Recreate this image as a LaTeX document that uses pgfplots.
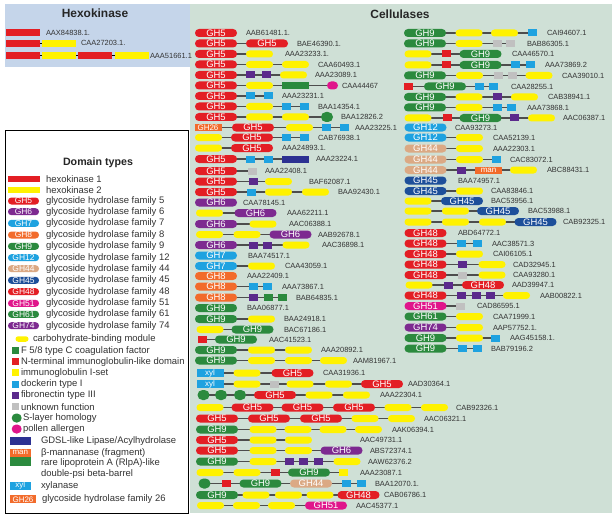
\documentclass[border=0pt]{standalone}
\usepackage{fontspec}
\setmainfont{Liberation Sans}
\setsansfont{Liberation Sans}
\usepackage{pgfplots}
\pgfplotsset{compat=1.18}
\definecolor{cRed}{HTML}{E31E24}
\definecolor{cPur}{HTML}{7D2A90}
\definecolor{cCyan}{HTML}{1EA2E0}
\definecolor{cOra}{HTML}{F26B2B}
\definecolor{cGrn}{HTML}{2B8A3E}
\definecolor{cTan}{HTML}{DBA984}
\definecolor{cNavy}{HTML}{1D4F9A}
\definecolor{cMag}{HTML}{E0158B}
\definecolor{cYel}{HTML}{FFF200}
\definecolor{cFn}{HTML}{5B2A8C}
\definecolor{cUnk}{HTML}{C0C0C0}
\definecolor{cGdsl}{HTML}{2C3192}
\definecolor{hexbg}{HTML}{C5D5EA}
\definecolor{cellbg}{HTML}{CFE0D6}
\definecolor{conn}{HTML}{4D4D4D}
\definecolor{lab}{HTML}{333333}
\tikzset{
  base/.style={rectangle, inner sep=0pt, outer sep=0pt, anchor=center},
  ghn/.style={base, rounded corners=3.9bp, minimum width=42bp, minimum height=8bp, text=white, font=\fontsize{9.5}{9.5}\selectfont},
  ghl/.style={base, rounded corners=3.4bp, minimum width=31bp, minimum height=7bp, text=white, font=\fontsize{8.5}{8.5}\selectfont},
  cbmn/.style={base, rounded corners=3.4bp, minimum width=27bp, minimum height=7bp, fill=cYel},
  sqn/.style={base, minimum width=9bp, minimum height=7bp},
  sql/.style={base, minimum width=7bp, minimum height=7bp},
  circn/.style={base, rounded corners=5bp, minimum width=12bp, minimum height=10bp},
  rectn/.style={base, minimum width=27bp, minimum height=7bp, text=white, font=\fontsize{8}{8}\selectfont},
  rectl/.style={base, minimum width=21bp, minimum height=8bp, text=white, font=\fontsize{8}{8}\selectfont},
  hexn/.style={base, minimum width=34bp, minimum height=7bp},
}
\pgfplotsset{
  dm/.style 2 args={draw=none, mark=none, forget plot, nodes near coords={#2}, nodes near coords align={center}, every node near coord/.style={#1}},
  lb/.style={draw=none, mark=none, forget plot, point meta=explicit symbolic, nodes near coords, nodes near coords align={center}, every node near coord/.style={anchor=west, inner sep=0pt, outer sep=0pt, text=lab, font=#1}},
}
\begin{document}
\begin{tikzpicture}
\begin{axis}[
  width=612bp, height=517bp, scale only axis,
  xmin=0, xmax=612, ymin=0, ymax=517, y dir=reverse,
  hide axis, clip=false,
]
% panels
\addplot[draw=none, fill=hexbg, forget plot] coordinates {(5,4)(190,4)(190,67)(5,67)} -- cycle;
\addplot[draw=none, fill=cellbg, forget plot] coordinates {(190,4)(612,4)(612,513)(190,513)} -- cycle;
\addplot[draw=black, line width=0.9bp, fill=white, forget plot] coordinates {(5,130)(188,130)(188,513)(5,513)} -- cycle;

% hexokinase connectors
\addplot[black, line width=1bp, mark=none, unbounded coords=jump, forget plot] coordinates {
(23,43.3)(59,43.3)(0,nan)(23,56)(131.5,56)};

% cellulase connectors
\addplot[conn, line width=1.2bp, mark=none, unbounded coords=jump, forget plot] coordinates {
(216,43.5)(267,43.5)(0,nan)(216,54)(259.5,54)(0,nan)(216,64.5)(295.5,64.5)(0,nan)
(216,75)(293.5,75)(0,nan)(216,85.5)(332.5,85.5)(0,nan)(216,96)(268.5,96)(0,nan)
(216,106.5)(304.5,106.5)(0,nan)(216,117)(327,117)(0,nan)(208,127.5)(344.5,127.5)(0,nan)
(208.5,137.5)(304.5,137.5)(0,nan)(208.5,148)(252,148)(0,nan)(216,159)(295.5,159)(0,nan)
(216,171)(252,171)(0,nan)(216,181.5)(278.5,181.5)(0,nan)(216,192)(315.5,192)(0,nan)
(209.5,213)(255.5,213)(0,nan)(216,224)(263,224)(0,nan)(209.5,234.5)(290.5,234.5)(0,nan)
(216,245)(296,245)(0,nan)(216,266)(261.5,266)(0,nan)(216,286.5)(267,286.5)(0,nan)
(216,297.5)(282,297.5)(0,nan)(216,319)(261.5,319)(0,nan)(210,329.5)(252.5,329.5)(0,nan)
(202,339.5)(236,339.5)(0,nan)(216,350)(298.5,350)(0,nan)(216,360.5)(333.5,360.5)(0,nan)
(210,373)(292.5,373)(0,nan)(210,384)(382,384)(0,nan)(203.5,395)(356.5,395)(0,nan)
(210,407.5)(434.5,407.5)(0,nan)(217,418.5)(401.5,418.5)(0,nan)(217,429.5)(368.5,429.5)(0,nan)
(217,440)(298.5,440)(0,nan)(217,450.5)(341.5,450.5)(0,nan)(217,461.5)(347,461.5)(0,nan)
(210,472.5)(343.5,472.5)(0,nan)(204.5,483.5)(361,483.5)(0,nan)(217,495)(358.5,495)(0,nan)
(210.5,505.5)(326,505.5)(0,nan)
(425,33)(532,33)(0,nan)(425,43.5)(510.5,43.5)(0,nan)(418,54)(480.5,54)(0,nan)
(418,65)(530,65)(0,nan)(425,75.5)(539,75.5)(0,nan)(408.5,86.5)(493.5,86.5)(0,nan)
(425,97)(524.5,97)(0,nan)(425,107.5)(511.5,107.5)(0,nan)(418,118)(541.5,118)(0,nan)
(425.5,137.5)(469.5,137.5)(0,nan)(425.5,148.5)(469.5,148.5)(0,nan)(425.5,159.5)(496.5,159.5)(0,nan)
(425.5,170)(523.5,170)(0,nan)(425.5,191)(469.5,191)(0,nan)(418,201)(462,201)(0,nan)
(418,211)(498,211)(0,nan)(418,222)(535.5,222)(0,nan)(425.5,243.5)(477,243.5)(0,nan)
(425.5,254)(469.5,254)(0,nan)(425.5,264.5)(492,264.5)(0,nan)(425.5,275)(492,275)(0,nan)
(419,285)(483,285)(0,nan)(425.5,295.5)(516.5,295.5)(0,nan)(425.5,306)(460.5,306)(0,nan)
(425.5,316.5)(469.5,316.5)(0,nan)(425.5,327.5)(469.5,327.5)(0,nan)(425.5,338)(495.5,338)(0,nan)
(425.5,348.5)(477,348.5)};

% hexokinase domains
\addplot[dm={hexn,fill=cRed}{\relax}] coordinates {(23,32.7)(23,43.3)(23,56)(95,56)};
\addplot[dm={hexn,fill=cYel}{\relax}] coordinates {(59,43.3)(59,56)(131.5,56)};

% GH domains
\addplot[dm={ghn,fill=cRed}{GH5}] coordinates {
(216,33)(216,43.5)(267,43.5)(216,54)(216,64.5)(216,75)(216,85.5)(216,96)(216,106.5)(216,117)
(253,127.5)(252,137.5)(252,148)(216,159)(216,171)(216,181.5)(216,192)(292.5,373)(382,384)(275,395)
(252.5,407.5)(302.5,407.5)(354,407.5)(217,418.5)(269,418.5)(321,418.5)(217,440)(217,450.5)};
\addplot[dm={ghn,fill=cPur}{GH6}] coordinates {(216,202.5)(255.5,213)(216,224)(290.5,234.5)(216,245)(341.5,450.5)};
\addplot[dm={ghn,fill=cCyan}{GH7}] coordinates {(216,255.5)(216,266)};
\addplot[dm={ghn,fill=cOra}{GH8}] coordinates {(216,276)(216,286.5)(216,297.5)};
\addplot[dm={ghn,fill=cGrn}{GH9}] coordinates {
(216,308)(216,319)(252.5,329.5)(236,339.5)(216,350)(216,360.5)(217,429.5)(217,461.5)(309,472.5)(260.5,483.5)(217,495)
(425,33)(425,43.5)(480.5,54)(480.5,65)(425,75.5)(445,86.5)(425,97)(425,107.5)(480.5,118)(425.5,338)(425.5,348.5)};
\addplot[dm={ghn,fill=cCyan}{GH12}] coordinates {(425.5,127.5)(425.5,137.5)};
\addplot[dm={ghn,fill=cTan}{GH44}] coordinates {(425.5,148.5)(425.5,159.5)(425.5,170)(311,483.5)};
\addplot[dm={ghn,fill=cNavy}{GH45}] coordinates {(425.5,180.5)(425.5,191)(462,201)(498,211)(535.5,222)};
\addplot[dm={ghn,fill=cRed}{GH48}] coordinates {(425.5,233)(425.5,243.5)(425.5,254)(425.5,264.5)(425.5,275)(483,285)(425.5,295.5)(358.5,495)};
\addplot[dm={ghn,fill=cMag}{GH51}] coordinates {(425.5,306)(326,505.5)};
\addplot[dm={ghn,fill=cGrn}{GH61}] coordinates {(425.5,316.5)};
\addplot[dm={ghn,fill=cPur}{GH74}] coordinates {(425.5,327.5)};
\addplot[dm={rectn,fill=cOra}{GH26}] coordinates {(208,127.5)};
\addplot[dm={rectn,fill=cOra}{man}] coordinates {(488.5,170)};
\addplot[dm={rectn,fill=cCyan}{xyl}] coordinates {(210,373)(210,384)};
\addplot[dm={rectn,fill=cGrn}{\relax}] coordinates {(295.5,85.5)};
\addplot[dm={rectn,fill=cGdsl}{\relax}] coordinates {(295.5,159)};

% CBM
\addplot[dm={cbmn}{\relax}] coordinates {
(259.5,54)(259.5,64.5)(295.5,64.5)(293.5,75)(259.5,85.5)(259.5,106.5)(259.5,117)(295.5,117)(299.5,127.5)
(208.5,137.5)(208.5,148)(278.5,181.5)(278.5,192)(315.5,192)(209.5,213)(263,224)(209.5,234.5)(247,234.5)
(296,245)(261.5,266)(261.5,319)(210,329.5)(261.5,350)(298.5,350)(261.5,360.5)(298.5,360.5)(333.5,360.5)
(247,373)(247,384)(300,384)(338.5,384)(319,395)(356.5,395)(210,407.5)(398,407.5)(434.5,407.5)
(365,418.5)(401.5,418.5)(263,429.5)(298,429.5)(333,429.5)(368.5,429.5)(263,440)(298.5,440)
(263,450.5)(298.5,450.5)(263,461.5)(347,461.5)(210,472.5)(247,472.5)(256,495)(288.5,495)(320,495)
(210.5,505.5)(246.5,505.5)(281.5,505.5)
(469,33)(504.5,33)(469,43.5)(418,54)(418,65)(469.5,75.5)(539,75.5)(469,97)(524.5,97)(469,107.5)
(418,118)(541.5,118)(469.5,137.5)(469.5,148.5)(469.5,159.5)(523.5,170)(469.5,191)(418,201)(418,211)
(455.5,211)(418,222)(455.5,222)(492.5,222)(469.5,254)(492,264.5)(492,275)(419,285)(516.5,295.5)
(469.5,316.5)(469.5,327.5)(469.5,338)};

% small square domains
\addplot[dm={sqn,fill=cCyan}{\relax}] coordinates {
(250.5,96)(268.5,96)(286.5,106.5)(304.5,106.5)(326.5,127.5)(344.5,127.5)(286.5,137.5)(304.5,137.5)
(250.5,159)(268.5,159)(251.5,192)(253,286.5)(267,286.5)(346,483.5)(361,483.5)
(532,33)(515.5,65)(530,65)(479.5,86.5)(493.5,86.5)(497,107.5)(511.5,107.5)(496.5,159.5)
(461.5,243.5)(477,243.5)(495.5,338)(462.5,348.5)(477,348.5)};
\addplot[dm={sqn,fill=cFn}{\relax}] coordinates {
(250.5,75)(266,75)(253,181.5)(253,245)(267,245)(253,297.5)(289.5,461.5)(303.5,461.5)(318.5,461.5)
(497,97)(514,118)(461.5,170)(462.5,264.5)(448,285)(461.5,295.5)(476,295.5)(490.5,295.5)};
\addplot[dm={sqn,fill=cUnk}{\relax}] coordinates {
(252,171)(274,384)(497.5,43.5)(510.5,43.5)(498,75.5)(512,75.5)(462,275)(460.5,306)};
\addplot[dm={sqn,fill=cRed}{\relax}] coordinates {
(202,339.5)(275,472.5)(226,483.5)(446.5,54)(446.5,65)(408.5,86.5)(447,118)};
\addplot[dm={sqn,fill=cGrn}{\relax}] coordinates {(268,297.5)(282,297.5)};
\addplot[dm={sqn,fill=cYel}{\relax}] coordinates {(343.5,472.5)};
\addplot[dm={circn,fill=cGrn}{\relax}] coordinates {(327,117)(203.5,395)(221,395)(240,395)(204.5,483.5)};
\addplot[dm={circn,fill=cMag,minimum width=11bp,minimum height=8bp,rounded corners=4bp}{\relax}] coordinates {(332.5,85.5)};

% accession labels
\addplot[lb={\fontsize{7.5}{7.5}\selectfont}] coordinates {
(46,32.7)[AAX84838.1.] (81,43.3)[CAA27203.1.] (150,56)[AAA51661.1]
(246,33)[AAB61481.1.] (297,43.5)[BAE46390.1.] (285,54)[AAA23233.1.] (318,64.5)[CAA60493.1]
(315,75)[AAA23089.1] (342,85.5)[CAA44467] (282,96)[AAA23231.1] (318,106.5)[BAA14354.1]
(341,117)[BAA12826.2] (355,127.5)[AAA23225.1] (318,137.5)[CAB76938.1] (282,148)[AAA24893.1.]
(316,159)[AAA23224.1] (265,171)[AAA22408.1] (309,181.5)[BAF62087.1] (338,192)[BAA92430.1]
(243,202.5)[CAA78145.1] (287,213)[AAA62211.1] (289,224)[AAC06388.1] (318,234.5)[AAB92678.1]
(322,245)[AAC36898.1] (248,255.5)[BAA74517.1] (285,266)[CAA43059.1] (247,276)[AAA22409.1]
(282,286.5)[AAA73867.1] (296,297.5)[BAB64835.1] (247,308)[BAA06877.1] (284,319)[BAA24918.1]
(284,329.5)[BAC67186.1] (269,339.5)[AAC41523.1] (321,350)[AAA20892.1] (353,360.5)[AAM81967.1]
(323,373)[CAA31936.1] (408,384)[AAD30364.1] (380,395)[AAA22304.1] (456,407.5)[CAB92326.1]
(424,418.5)[AAC06321.1] (392,429.5)[AAK06394.1] (360,440)[AAC49731.1] (370,450.5)[ABS72374.1]
(368,461.5)[AAW62376.2] (360,472.5)[AAA23087.1] (375,483.5)[BAA12070.1.] (384,495)[CAB06786.1]
(356,505.5)[AAC45377.1]
(547,33)[CAI94607.1] (527,43.5)[BAB86305.1] (512,54)[CAA46570.1] (545,65)[AAA73869.2]
(562,75.5)[CAA39010.1] (511,86.5)[CAA28255.1] (548,97)[CAB38941.1] (527,107.5)[AAA73868.1]
(563,118)[AAC06387.1] (455,127.5)[CAA93273.1] (493,137.5)[CAA52139.1] (493,148.5)[AAA22303.1]
(510,159.5)[CAC83072.1] (547,170)[ABC88431.1] (458,180.5)[BAA74957.1] (491,191)[CAA83846.1]
(491,201)[BAC53956.1] (528,211)[BAC53988.1] (563,222)[CAB92325.1] (458,233)[ABD64772.1]
(492,243.5)[AAC38571.3] (493,254)[CAI06105.1] (513,264.5)[CAD32945.1] (513,275)[CAA93280.1]
(512,285)[AAD39947.1] (540,295.5)[AAB00822.1] (477,306)[CAD86595.1] (493,316.5)[CAA71999.1]
(493,327.5)[AAP57752.1.] (510,338)[AAG45158.1.] (491,348.5)[BAB79196.2]};

% legend samples
\addplot[dm={hexn,minimum width=32bp,minimum height=6.5bp,fill=cRed}{\relax}] coordinates {(24,179)};
\addplot[dm={hexn,minimum width=32bp,minimum height=6.5bp,fill=cYel}{\relax}] coordinates {(24,190)};
\addplot[dm={ghl,fill=cRed}{GH5}] coordinates {(23.5,201)};
\addplot[dm={ghl,fill=cPur}{GH6}] coordinates {(23.5,211.7)};
\addplot[dm={ghl,fill=cCyan}{GH7}] coordinates {(23.5,223.3)};
\addplot[dm={ghl,fill=cOra}{GH8}] coordinates {(23.5,235)};
\addplot[dm={ghl,fill=cGrn}{GH9}] coordinates {(23.5,246.3)};
\addplot[dm={ghl,fill=cCyan}{GH12}] coordinates {(23.5,257.7)};
\addplot[dm={ghl,fill=cTan}{GH44}] coordinates {(23.5,268.7)};
\addplot[dm={ghl,fill=cNavy}{GH45}] coordinates {(23.5,280.3)};
\addplot[dm={ghl,fill=cRed}{GH48}] coordinates {(23.5,291.7)};
\addplot[dm={ghl,fill=cMag}{GH51}] coordinates {(23.5,303.3)};
\addplot[dm={ghl,fill=cGrn}{GH61}] coordinates {(23.5,314.3)};
\addplot[dm={ghl,fill=cPur}{GH74}] coordinates {(23.5,325.7)};
\addplot[dm={cbmn,minimum width=13bp,minimum height=5.5bp,rounded corners=2.7bp}{\relax}] coordinates {(22,339)};
\addplot[dm={sql,fill=cGrn}{\relax}] coordinates {(15.5,350.7)};
\addplot[dm={sql,fill=cRed}{\relax}] coordinates {(15.5,361.7)};
\addplot[dm={sql,fill=cYel}{\relax}] coordinates {(15.5,372.7)};
\addplot[dm={sql,fill=cCyan}{\relax}] coordinates {(15.5,384)};
\addplot[dm={sql,fill=cFn}{\relax}] coordinates {(15.5,395.3)};
\addplot[dm={sql,fill=cUnk}{\relax}] coordinates {(15.5,406.7)};
\addplot[dm={circn,minimum width=10bp,minimum height=9bp,rounded corners=4.5bp,fill=cGrn}{\relax}] coordinates {(16.7,418)};
\addplot[dm={circn,minimum width=10bp,minimum height=9bp,rounded corners=4.5bp,fill=cMag}{\relax}] coordinates {(16.7,429)};
\addplot[dm={rectl,fill=cGdsl}{\relax}] coordinates {(20.3,440.7)};
\addplot[dm={rectl,fill=cOra}{man}] coordinates {(20.3,452.7)};
\addplot[dm={rectl,minimum height=9bp,fill=cGrn}{\relax}] coordinates {(20.3,461.5)};
\addplot[dm={rectl,fill=cCyan}{xyl}] coordinates {(20.3,485.7)};
\addplot[dm={rectl,minimum width=26bp,fill=cOra}{GH26}] coordinates {(23,499.3)};

% legend labels
\addplot[lb={\fontsize{9.5}{9.5}\selectfont}] coordinates {
(46,179)[hexokinase 1] (46,190)[hexokinase 2]
(46,201)[glycoside hydrolase family 5] (46,211.7)[glycoside hydrolase family 6]
(46,223.3)[glycoside hydrolase family 7] (46,235)[glycoside hydrolase family 8]
(46,246.3)[glycoside hydrolase family 9] (46,257.7)[glycoside hydrolase family 12]
(46,268.7)[glycoside hydrolase family 44] (46,280.3)[glycoside hydrolase family 45]
(46,291.7)[glycoside hydrolase family 48] (46,303.3)[glycoside hydrolase family 51]
(46,314.3)[glycoside hydrolase family 61] (46,325.7)[glycoside hydrolase family 74]
(33,339)[carbohydrate-binding module]
(21,350.7)[F 5/8 type C coagulation factor] (21,361.7)[N-terminal immunoglobulin-like domain]
(21,372.7)[immunoglobulin I-set] (21,384)[dockerin type I] (21,395.3)[fibronectin type III]
(21,406.7)[unknown function] (23,418)[S-layer homology] (23,429)[pollen allergen]
(41,440.7)[GDSL-like Lipase/Acylhydrolase] (41,452.7)[β-mannanase (fragment)]
(41,463.3)[rare lipoprotein A (RlpA)-like] (41,474.3)[double-psi beta-barrel]
(41,485.7)[xylanase] (42,499.3)[glycoside hydrolase family 26]};

% titles
\node[font=\bfseries\fontsize{12}{12}\selectfont, text=black!85] at (axis cs:95,13.5) {Hexokinase};
\node[font=\bfseries\fontsize{10.7}{10.7}\selectfont, text=black!85] at (axis cs:98,163) {Domain types};
\node[font=\bfseries\fontsize{12}{12}\selectfont, text=black!85] at (axis cs:400,14.5) {Cellulases};
\end{axis}
\pgfresetboundingbox
\path (0,0) rectangle (612bp,517bp);
\end{tikzpicture}
\end{document}
